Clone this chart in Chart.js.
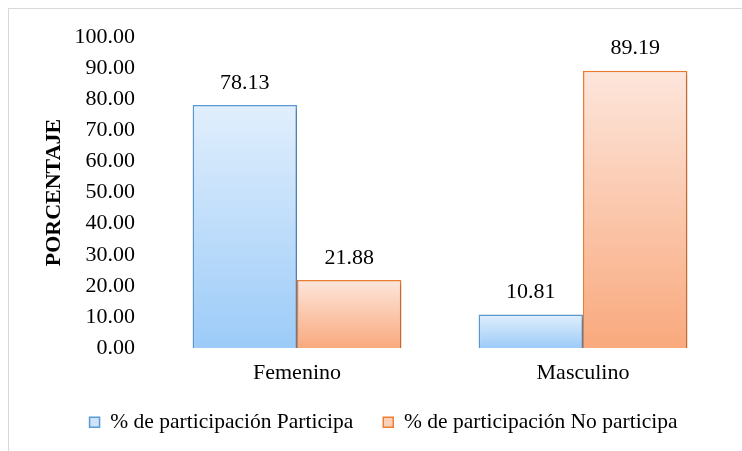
<!DOCTYPE html>
<html lang="es">
<head>
  <meta charset="UTF-8" />
  <title>Participación por sexo</title>
  <script src="https://cdn.jsdelivr.net/npm/chart.js"></script>
  <style>
    body { margin: 0; background: #fff; }
    .marco {
      position: relative;
      width: 742px;
      height: 451px;
      overflow: hidden;
    }
    .borde {
      position: absolute;
      left: 8px; top: 8px;
      width: 760px; height: 460px;
      border-top: 1px solid #d9d9d9;
      border-left: 1px solid #d9d9d9;
    }
    /* fuerza la carga de la fuente antes de dibujar en el canvas */
    .precarga {
      position: absolute; left: 0; top: 0;
      color: transparent;
      font-family: "Liberation Serif";
      font-size: 22px;
    }
    .precarga b { font-weight: bold; }
    canvas { position: absolute; left: 0; top: 0; }
  </style>
</head>
<body>
  <div class="marco">
    <div class="borde"></div>
    <div class="precarga">Femenino <b>PORCENTAJE</b></div>
    <canvas id="grafico" width="742" height="451"></canvas>
  </div>

  <script>
    const categorias = ['Femenino', 'Masculino'];
    const participa = [78.13, 10.81];
    const noParticipa = [21.88, 89.19];
    const series = ['% de participación Participa', '% de participación No participa'];

    const fuente = '"Liberation Serif", "Times New Roman", serif';
    const tam = 22;
    Chart.defaults.font.family = fuente;

    // degradado vertical por barra, como en Excel
    function degradado(arriba, abajo) {
      return (ctx) => {
        const chart = ctx.chart;
        const y = chart.scales && chart.scales.y;
        if (!y || ctx.raw === undefined) return abajo;
        const yTop = y.getPixelForValue(ctx.raw);
        const yBase = y.getPixelForValue(0);
        if (!isFinite(yTop) || !isFinite(yBase)) return abajo;
        const g = chart.ctx.createLinearGradient(0, yTop, 0, yBase);
        g.addColorStop(0, arriba);
        g.addColorStop(1, abajo);
        return g;
      };
    }

    const etiquetas = {
      id: 'etiquetas',
      afterDatasetsDraw(chart) {
        const ctx = chart.ctx;
        ctx.save();
        ctx.font = tam + 'px ' + fuente;
        ctx.fillStyle = '#000';
        ctx.textAlign = 'center';
        ctx.textBaseline = 'bottom';
        chart.data.datasets.forEach((ds, i) => {
          chart.getDatasetMeta(i).data.forEach((bar, j) => {
            ctx.fillText(ds.data[j].toFixed(2), bar.x, bar.y - 11);
          });
        });
        ctx.restore();
      }
    };

    const sombra = {
      id: 'sombra',
      beforeDatasetsDraw(chart) {
        const ctx = chart.ctx;
        ctx.save();
        ctx.shadowColor = 'rgba(0,0,0,0.22)';
        ctx.shadowBlur = 4;
        ctx.shadowOffsetX = 2;
        ctx.shadowOffsetY = 2;
      },
      afterDatasetsDraw(chart) {
        chart.ctx.restore();
      }
    };

    function dibujar() {
      new Chart(document.getElementById('grafico'), {
        type: 'bar',
        data: {
          labels: categorias,
          datasets: [{
            label: series[0],
            data: participa,
            backgroundColor: degradado('#e1effd', '#9ccbf8'),
            borderColor: '#5b9bd5',
            borderWidth: 1.5,
            legendColor: '#cfe3fb'
          }, {
            label: series[1],
            data: noParticipa,
            backgroundColor: degradado('#fde6dc', '#f9a97d'),
            borderColor: '#ed7d31',
            borderWidth: 1.5,
            legendColor: '#fbcfb8'
          }]
        },
        options: {
          responsive: false,
          animation: false,
          layout: { padding: { left: 41, right: 16, top: 37, bottom: 8 } },
          datasets: { bar: { categoryPercentage: 0.73, barPercentage: 1 } },
          scales: {
            x: {
              grid: { display: false },
              border: { display: false },
              afterFit(scale) { scale.height -= 9; },
              ticks: { color: '#000', font: { family: fuente, size: tam }, padding: 4 }
            },
            y: {
              min: 0,
              max: 100,
              grid: { display: false, drawTicks: false },
              border: { display: false },
              afterFit(scale) { scale.width = 113; },
              ticks: {
                stepSize: 10,
                color: '#000',
                padding: 19,
                font: { family: fuente, size: tam },
                callback: v => v.toFixed(2)
              },
              title: {
                display: true,
                text: 'PORCENTAJE',
                color: '#000',
                font: { family: fuente, size: tam, weight: 'bold' },
                padding: { top: 0, bottom: 4 }
              }
            }
          },
          plugins: {
            tooltip: { enabled: false },
            legend: {
              position: 'bottom',
              labels: {
                color: '#000',
                font: { family: fuente, size: 21.5 },
                boxWidth: 10,
                boxHeight: 10,
                padding: 30,
                generateLabels(chart) {
                  return chart.data.datasets.map((ds, i) => ({
                    text: ds.label,
                    fillStyle: ds.legendColor,
                    strokeStyle: ds.borderColor,
                    lineWidth: 1.5,
                    datasetIndex: i
                  }));
                }
              }
            }
          }
        },
        plugins: [sombra, etiquetas]
      });
    }

    document.fonts.ready.then(() => setTimeout(dibujar, 50));
  </script>
</body>
</html>
